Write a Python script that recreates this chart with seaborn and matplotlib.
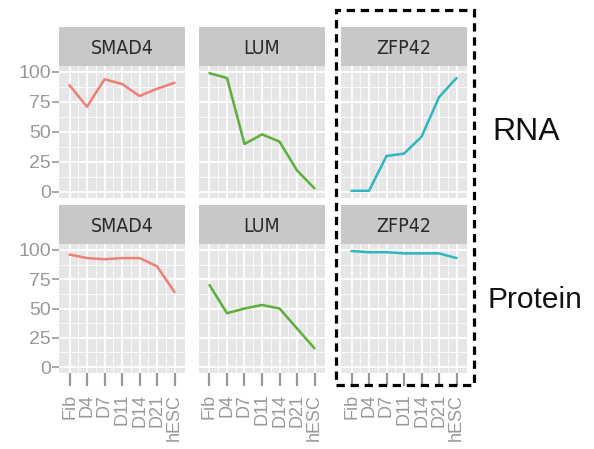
import numpy as np
import pandas as pd
import matplotlib
matplotlib.use("Agg")
import matplotlib.pyplot as plt
import matplotlib.patches as patches
import seaborn as sns

# datos
time_points = ["Fib", "D4", "D7", "D11", "D14", "D21", "hESC"]
genes = ["SMAD4", "LUM", "ZFP42"]
row_names = ["RNA", "Protein"]

smad4_rna = [89, 71, 94, 90, 80, 86, 91]
lum_rna = [99, 95, 40, 48, 42, 18, 3]
zfp42_rna = [1, 1, 30, 32, 46, 79, 95]

smad4_prot = [96, 93, 92, 93, 93, 86, 64]
lum_prot = [70, 46, 50, 53, 50, 33, 16]
zfp42_prot = [99, 98, 98, 97, 97, 97, 93]

gene_colors = ["#EE7F77", "#5DAE3B", "#2FB6C0"]

data = {
    ("RNA", "SMAD4"): smad4_rna, ("RNA", "LUM"): lum_rna, ("RNA", "ZFP42"): zfp42_rna,
    ("Protein", "SMAD4"): smad4_prot, ("Protein", "LUM"): lum_prot, ("Protein", "ZFP42"): zfp42_prot,
}

sns.set_style("white")
plt.rcParams['font.family'] = ['Liberation Sans', 'DejaVu Sans']

W, H = 594, 449
fig = plt.figure(figsize=(W / 100, H / 100), dpi=100)


def add_ax(x0, y0, w, h):
    return fig.add_axes([x0 / W, 1 - (y0 + h) / H, w / W, h / H])


col_x = [59, 199, 341]
col_w = 126
rows_y = [(27, 66, 132), (205, 244, 129)]  # strip top, panel top, panel height
strip_h = 39
tick_gray = "#999999"

for r, row in enumerate(row_names):
    st, pt, ph = rows_y[r]
    for c, gene in enumerate(genes):
        # panel
        ax = add_ax(col_x[c], pt, col_w, ph)
        ax.set_facecolor("#E6E6E6")
        xs = np.arange(len(time_points))
        sns.lineplot(x=xs, y=data[(row, gene)], color=gene_colors[c], lw=1.8, ax=ax)
        ax.set_xlim(-0.6, 6.6)
        ax.set_ylim(-5, 105)
        ax.set_yticks([0, 25, 50, 75, 100])
        ax.set_yticks([12.5, 37.5, 62.5, 87.5], minor=True)
        ax.set_xticks(xs)
        ax.set_xticks(xs[:-1] + 0.5, minor=True)
        ax.grid(True, which="major", color="white", lw=1.3)
        ax.grid(True, which="minor", color="white", lw=0.6)
        ax.set_axisbelow(True)
        for s in ax.spines.values():
            s.set_visible(False)
        if c == 0:
            ax.set_yticklabels(["0", "25", "50", "75", "100"], color=tick_gray, fontsize=14)
            ax.tick_params(axis="y", which="major", length=5, width=1.2, color=tick_gray, pad=1, left=True)
        else:
            ax.set_yticklabels([])
            ax.tick_params(axis="y", which="both", length=0)
        ax.tick_params(axis="y", which="minor", length=0)
        if r == 1:
            ax.set_xticklabels(time_points, rotation=90, color=tick_gray, fontsize=13, va="top")
            ax.tick_params(axis="x", which="major", length=9, width=1.6, color=tick_gray, pad=6, bottom=True)
        else:
            ax.set_xticklabels([])
            ax.tick_params(axis="x", which="major", length=0)
        ax.tick_params(axis="x", which="minor", length=0)
        ax.set_xlabel("")
        ax.set_ylabel("")

        # strip
        sax = add_ax(col_x[c], st, col_w, strip_h)
        sax.set_facecolor("#C8C8C8")
        sax.set_xticks([])
        sax.set_yticks([])
        for s in sax.spines.values():
            s.set_visible(False)
        sax.text(0.5, 0.45, gene, ha="center", va="center", fontsize=14,
                 color="#2A2A2A", transform=sax.transAxes,
                 family=['DejaVu Sans'], fontstretch="condensed")

# recuadro discontinuo
rect = patches.Rectangle((336 / W, 1 - 385 / H), (474 - 336) / W, (385 - 10) / H,
                         transform=fig.transFigure, fill=False, edgecolor="black",
                         lw=2.3, linestyle=(0, (2.6, 1.8)))
fig.patches.append(rect)

# etiquetas de filas
fig.text(492 / W, 1 - 132 / H, "RNA", fontsize=23, va="center", ha="left", color="#111111")
fig.text(487 / W, 1 - 300 / H, "Protein", fontsize=21.5, va="center", ha="left", color="#111111")

fig.savefig("out.png", dpi=100, facecolor="white")
